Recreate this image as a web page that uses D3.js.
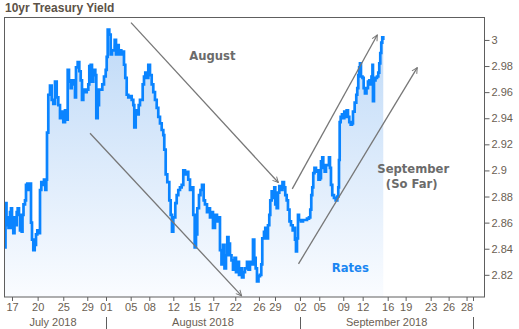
<!DOCTYPE html>
<html><head><meta charset="utf-8">
<script src="https://cdn.jsdelivr.net/npm/d3@7"></script>
<style>body{margin:0;background:#fff}svg{display:block}</style>
</head><body><svg id="c" width="519" height="329"></svg>
<script>
// x values are trading days counted from Mon 16 Jul 2018 (weekends compressed)
const days = [0.181,0.239,0.356,0.473,0.590,0.766,0.883,1.000,1.152,1.293,1.468,1.550,1.667,1.819,1.936,2.135,2.229,2.346,2.522,2.638,2.790,2.954,3.071,3.224,3.341,3.493,3.657,3.809,3.961,4.125,4.277,4.429,4.593,4.745,4.897,5.014,5.096,5.248,5.447,5.646,5.834,6.032,6.231,6.419,6.618,6.817,7.004,7.203,7.402,7.519,7.671,7.870,7.987,8.174,8.373,8.490,8.689,8.876,9.040,9.192,9.344,9.543,9.742,9.929,10.046,10.210,10.362,10.515,10.749,10.866,11.030,11.182,11.381,11.568,11.767,11.966,12.083,12.200,12.387,12.551,12.703,13.019,13.171,13.324,13.487,13.639,13.791,13.990,14.107,14.259,14.423,14.611,14.809,15.008,15.196,15.313,15.477,15.664,15.828,15.979,16.178,16.295,16.448,16.600,16.764,16.951,17.149,17.348,17.536,17.735,17.934,18.121,18.320,18.519,18.706,18.823,18.987,19.174,19.409,19.572,19.725,19.877,20.111,20.275,20.462,20.660,20.859,21.047,21.246,21.445,21.632,21.831,22.030,22.217,22.381,22.533,22.685,22.884,23.059,23.235,23.434,23.586,23.820,23.996,24.171,24.347,24.522,24.756,24.991,25.166,25.341,25.517,25.693,25.868,26.044,26.196,26.337,26.512,26.687,26.863,27.038,27.214,27.390,27.565,27.741,27.916,28.092,28.267,28.501,28.677,28.852,29.028,29.204,29.356,29.520,29.672,29.848,30.022,30.175,30.292,30.491,30.643,30.807,30.959,31.111,31.228,31.392,31.544,31.697,31.814,31.978,32.130,32.282,32.481,32.657,32.832,32.984,33.148,33.300,33.476,33.651,33.850,34.003,34.120,34.237,34.354,34.471,34.588,34.822,35.056,35.290,35.524,35.758,35.910,36.027,36.144,36.261,36.402,36.577,36.729,36.869,37.044,37.161,37.313,37.430,37.594,37.746,37.922,38.097,38.214,38.331,38.484,38.683,38.882,39.069,39.186,39.268,39.350,39.467,39.619,39.771,39.888,40.052,40.169,40.321,40.474,40.638,40.790,40.907,41.106,41.293,41.410,41.527,41.633,41.725,41.842,42.018,42.158,42.310,42.486,42.661,42.813,42.954,43.071,43.188,43.247,43.364,43.540,43.715,43.867,43.984,44.101,44.218,44.335,44.452];
const yields = [2.841,2.875,2.858,2.864,2.856,2.868,2.871,2.856,2.852,2.864,2.858,2.868,2.871,2.866,2.854,2.853,2.866,2.874,2.877,2.889,2.890,2.885,2.890,2.860,2.847,2.839,2.843,2.851,2.854,2.852,2.885,2.891,2.889,2.893,2.885,2.893,2.929,2.958,2.965,2.954,2.951,2.968,2.956,2.950,2.940,2.945,2.937,2.946,2.939,2.977,2.968,2.963,2.969,2.966,2.956,2.979,2.983,2.976,2.969,2.954,2.962,2.960,2.962,2.966,2.980,2.981,2.968,2.977,2.973,2.940,2.950,2.962,2.962,2.966,2.972,2.977,2.987,3.008,3.004,2.989,2.992,3.000,2.989,2.996,2.989,2.992,2.989,2.991,2.981,2.971,2.958,2.956,2.957,2.954,2.950,2.933,2.946,2.943,2.950,2.954,2.954,2.966,2.972,2.975,2.971,2.981,2.973,2.966,2.960,2.954,2.948,2.941,2.936,2.931,2.927,2.916,2.897,2.891,2.877,2.866,2.853,2.864,2.875,2.881,2.885,2.887,2.889,2.900,2.897,2.899,2.893,2.885,2.887,2.866,2.841,2.851,2.871,2.881,2.885,2.889,2.877,2.874,2.868,2.871,2.864,2.868,2.856,2.866,2.861,2.864,2.839,2.828,2.843,2.825,2.835,2.849,2.844,2.835,2.831,2.824,2.833,2.822,2.830,2.820,2.825,2.818,2.822,2.825,2.830,2.824,2.830,2.828,2.847,2.833,2.825,2.815,2.819,2.820,2.828,2.848,2.853,2.856,2.848,2.858,2.866,2.877,2.884,2.879,2.887,2.874,2.871,2.883,2.888,2.885,2.891,2.887,2.881,2.877,2.870,2.861,2.858,2.854,2.856,2.847,2.838,2.848,2.866,2.862,2.861,2.862,2.862,2.863,2.864,2.870,2.881,2.887,2.898,2.902,2.899,2.900,2.893,2.894,2.907,2.910,2.902,2.899,2.904,2.904,2.910,2.902,2.889,2.881,2.879,2.877,2.880,2.887,2.908,2.937,2.941,2.943,2.940,2.945,2.941,2.946,2.941,2.937,2.935,2.936,2.945,2.952,2.958,2.963,2.973,2.979,2.982,2.972,2.971,2.963,2.959,2.963,2.968,2.969,2.966,2.972,2.981,2.953,2.969,2.971,2.972,2.975,2.982,2.990,2.998,3.002,3.000];

const yTicks = [2.82,2.84,2.86,2.88,2.9,2.92,2.94,2.96,2.98,3];
const xTickDays = [1.0,4.0,7.0,9.81,12.0,14.89,17.07,19.88,22.33,24.56,27.13,29.9,31.78,34.7,36.96,39.77,42.04,44.97,47.07,50.0,52.1,54.2];
const xTickLabels = ["17","20","25","29","01","05","08","12","15","17","22","26","29","02","05","09","12","16","19","23","26","28"];
const monthBounds = [12.0, 34.7, 54.95];
const monthNames = ["July 2018","August 2018","September 2018"];
const monthCenters = [5.8, 23.35, 44.85];
// arrows: [fromDay, fromYield, toDay, toYield]
const arrows = [[14.93,3.0133,32.17,2.8907],[10.13,2.9285,27.88,2.8039],[33.80,2.8859,43.75,3.0038],[34.53,2.8284,48.43,2.9788]];
const noteTexts = ["August","September","(So Far)","Rates"];
const noteDays = [24.46,47.96,47.78,40.59];
const noteYields = [2.9847,2.8979,2.8864,2.8225];
const noteColors = ["#6b6b6b","#6b6b6b","#6b6b6b","#1a86f2"];

const svg = d3.select("#c");
const L = 4.5, R = 484.5, T = 17.5, B = 297;
const x = d3.scaleLinear().domain([0.122, 56.3]).range([L, R]);
const y = d3.scaleLinear().domain([2.803, 3.0172]).range([B, T]);

const defs = svg.append("defs");
const g = defs.append("linearGradient").attr("id","fillg").attr("gradientUnits","userSpaceOnUse")
  .attr("x1",0).attr("x2",0).attr("y1",T).attr("y2",B);
g.append("stop").attr("offset","0").attr("stop-color","#bcd8f7");
g.append("stop").attr("offset","1").attr("stop-color","#fafcff");
defs.append("marker").attr("id","arr").attr("viewBox","0 0 10 10").attr("refX",9).attr("refY",5)
  .attr("markerWidth",7).attr("markerHeight",7).attr("markerUnits","userSpaceOnUse").attr("orient","auto")
  .append("path").attr("d","M1,1 L9,5 L1,9").attr("fill","none").attr("stroke","#777").attr("stroke-width",1.4);

svg.append("text").attr("x",5).attr("y",12).text("10yr Treasury Yield")
  .attr("font-family","'Liberation Sans',Arial,sans-serif").attr("font-weight","bold").attr("font-size",12).attr("fill","#5c5247");

const pts = days.map((d,i)=>[d,yields[i]]);
svg.append("path").datum(pts)
  .attr("d", d3.area().x(d=>x(d[0])).y0(B).y1(d=>y(d[1])))
  .attr("fill","url(#fillg)");
svg.append("path").datum(pts)
  .attr("d", d3.line().x(d=>x(d[0])).y(d=>y(d[1])).curve(d3.curveStepAfter))
  .attr("fill","none").attr("stroke","#0a84ff").attr("stroke-width",2.7).attr("stroke-linejoin","miter");

// frame
svg.append("rect").attr("x",L).attr("y",T).attr("width",R-L).attr("height",B-T)
  .attr("fill","none").attr("stroke","#5e5e5e").attr("stroke-width",1);

// right axis
const yAx = svg.append("g").attr("transform",`translate(${R},0)`)
  .call(d3.axisRight(y).tickValues(yTicks).tickFormat(d=>d3.format("")(+d.toFixed(2))).tickSize(5).tickPadding(2));
yAx.select(".domain").remove();
yAx.selectAll("line").attr("stroke","#5e5e5e");
yAx.selectAll("text").attr("font-family","Tahoma,'Liberation Sans',Arial,sans-serif").attr("font-size",11).attr("fill","#6a5e52");

// bottom axis
const xAx = svg.append("g").attr("transform",`translate(0,${B})`)
  .call(d3.axisBottom(x).tickValues(xTickDays).tickFormat((d,i)=>xTickLabels[i]).tickSize(4).tickPadding(2));
xAx.select(".domain").remove();
xAx.selectAll("line").attr("stroke","#5e5e5e");
xAx.selectAll("text").attr("font-family","Tahoma,'Liberation Sans',Arial,sans-serif").attr("font-size",11).attr("fill","#6a5e52");
svg.append("g").selectAll("line").data(monthBounds).join("line")
  .attr("x1",d=>Math.round(x(d))+0.5).attr("x2",d=>Math.round(x(d))+0.5).attr("y1",B).attr("y2",B+4).attr("stroke","#5e5e5e");
svg.append("g").selectAll("line").data(monthBounds).join("line")
  .attr("x1",d=>Math.round(x(d))+0.5).attr("x2",d=>Math.round(x(d))+0.5).attr("y1",317).attr("y2",329).attr("stroke","#5e5e5e");
svg.append("g").selectAll("text").data(monthNames).join("text")
  .attr("x",(d,i)=>x(monthCenters[i])).attr("y",326).attr("text-anchor","middle").text(d=>d)
  .attr("font-family","Tahoma,'Liberation Sans',Arial,sans-serif").attr("font-size",11).attr("fill","#6a5e52");

// arrows
svg.append("g").selectAll("line").data(arrows).join("line")
  .attr("x1",d=>x(d[0])).attr("y1",d=>y(d[1])).attr("x2",d=>x(d[2])).attr("y2",d=>y(d[3]))
  .attr("stroke","#777").attr("stroke-width",1.3).attr("marker-end","url(#arr)");

// notes
svg.append("g").selectAll("text").data(noteTexts).join("text")
  .attr("x",(d,i)=>x(noteDays[i])).attr("y",(d,i)=>y(noteYields[i])).attr("text-anchor","middle")
  .attr("font-family","'DejaVu Sans',Verdana,sans-serif").attr("font-weight","bold").attr("font-size",11.6)
  .attr("fill",(d,i)=>noteColors[i]).text(d=>d);
</script></body></html>
